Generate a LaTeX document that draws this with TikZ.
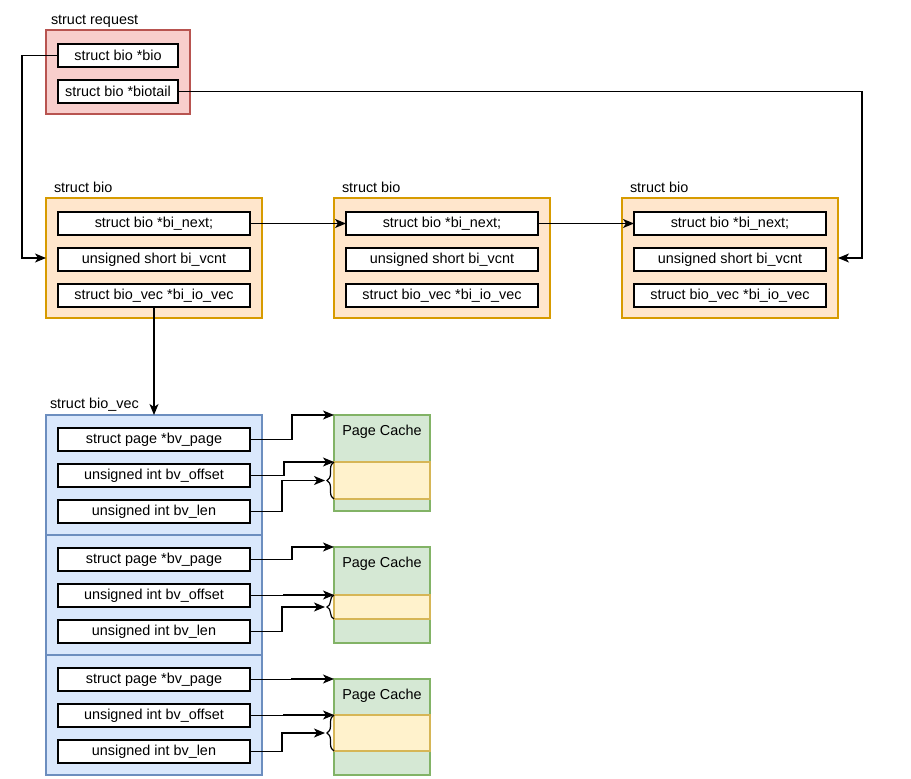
\documentclass[tikz,border=0pt]{standalone}
\usepackage{fontspec}
\setmainfont{Liberation Sans}
\usetikzlibrary{positioning,calc,arrows.meta,decorations.pathreplacing}
\definecolor{reqfill}{HTML}{F8CECC}
\definecolor{reqline}{HTML}{B85450}
\definecolor{biofill}{HTML}{FFE6CC}
\definecolor{bioline}{HTML}{D79B00}
\definecolor{vecfill}{HTML}{DAE8FC}
\definecolor{vecline}{HTML}{6C8EBF}
\definecolor{pcfill}{HTML}{D5E8D4}
\definecolor{pcline}{HTML}{82B366}
\definecolor{selfill}{HTML}{FFF2CC}
\definecolor{selline}{HTML}{D6B656}

\begin{document}
\begin{tikzpicture}[x=1pt, y=-1pt,
  every node/.style={font=\fontsize{14.4}{17}\selectfont, inner sep=0pt, outer sep=0pt},
  box/.style={draw=#1line, fill=#1fill, line width=1.2pt, anchor=north west},
  field/.style={draw, fill=white, line width=1.4pt, minimum width=#1, minimum height=23pt},
  title/.style={anchor=base west},
  link/.style={line width=1.3pt, -{Stealth[length=11pt,width=9pt,inset=3pt]}}]
\useasboundingbox (0,0) rectangle (911,779);

% struct request
\node[box=req, minimum width=144pt, minimum height=84pt] (req) at (46,30) {};
\node[title] (lreq) at (51,24) {struct request};
\node[field=120pt, below=14pt of req.north] (rbio) {struct bio *bio};
\node[field=120pt, below=13pt of rbio] (rtail) {struct bio *biotail};

% the bio chain
\foreach \i/\x in {1/46,2/334,3/622}{
  \node[box=bio, minimum width=216pt, minimum height=120pt] (bio\i) at (\x,198) {};
  \node[title] (lbio\i) at (\x+8,192) {struct bio};
  \node[field=192pt, below=14pt of bio\i.north] (next\i) {struct bio *bi\_next;};
  \node[field=192pt, below=13pt of next\i] (vcnt\i) {unsigned short bi\_vcnt};
  \node[field=192pt, below=13pt of vcnt\i] (iovec\i) {struct bio\_vec *bi\_io\_vec};
}
\draw[link] (rbio.west) -- ++(-36,0) |- (bio1.west);
\draw[link] (rtail.east) -- ++(684,0) |- (bio3.east);
\draw[link] (next1.east) -- (next2.west);
\draw[link] (next2.east) -- (next3.west);

% bio_vec array and page cache
\node[title] (lbvec) at (50,408) {struct bio\_vec};
\foreach \i/\vy/\py/\ya/\yb in {1/415/415/462/499, 2/535/547/595/619, 3/655/679/715/751}{
  \pgfmathsetmacro\yh{\yb-\ya}
  \node[box=vec, minimum width=216pt, minimum height=120pt] (bv\i) at (46,\vy) {};
  \node[field=192pt, below=13pt of bv\i.north] (pg\i) {struct page *bv\_page};
  \node[field=192pt, below=13pt of pg\i] (off\i) {unsigned int bv\_offset};
  \node[field=192pt, below=13pt of off\i] (len\i) {unsigned int bv\_len};
  \node[box=pc, minimum width=96pt, minimum height=96pt] (pc\i) at (334,\py) {};
  \node (pct\i) at (382,\py+17) {Page Cache};
  \node[box=sel, minimum width=96pt, minimum height=\yh pt] (sel\i) at (334,\ya) {};
  \coordinate (tip\i) at (325,{(\ya+\yb)/2});
  \draw[line width=1.2pt, decorate, decoration={brace, amplitude=7pt}] (sel\i.south west) -- (sel\i.north west);
  \draw[link] (pg\i.east) -- ++(42,0) |- (pc\i.north west);
  \draw[link] (off\i.east) -- ++(34,0) |- (sel\i.north west);
  \draw[link] (len\i.east) -- ++(32,0) |- (tip\i);
}
\draw[link] (iovec1.south) -- (bv1.north);
\end{tikzpicture}
\end{document}
